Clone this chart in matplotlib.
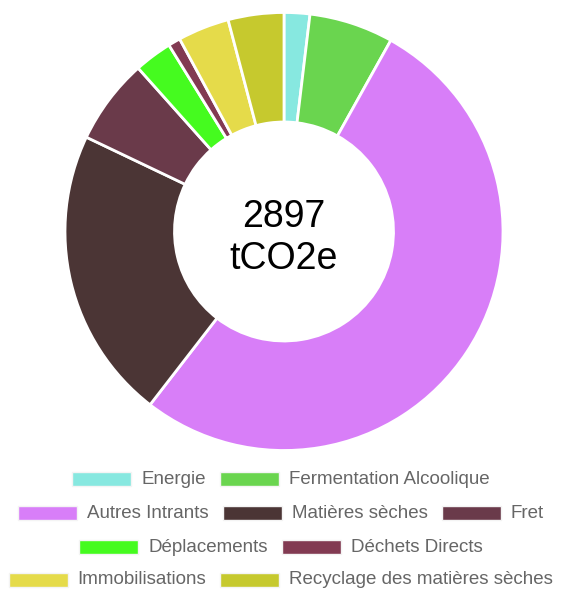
import matplotlib
matplotlib.use("Agg")
import matplotlib.pyplot as plt
from matplotlib.patches import Rectangle

# Emissions by category (tCO2e)
labels = ["Energie", "Fermentation Alcoolique", "Autres Intrants", "Matières sèches",
          "Fret", "Déplacements", "Déchets Directs", "Immobilisations",
          "Recyclage des matières sèches"]
values = [55, 180, 1517, 626, 183, 81, 26, 110, 119]
colors = ["#87e8e0", "#6ad54f", "#d87ef8", "#4b3535", "#6a3a4a",
          "#45fb1f", "#823a52", "#e5db4a", "#c6c92e"]
legend_rows = [[0, 1], [2, 3, 4], [5, 6], [7, 8]]

plt.rcParams['font.family'] = ['Liberation Sans', 'DejaVu Sans']

W, H = 562, 589
fig = plt.figure(figsize=(W / 100, H / 100), dpi=100)

# doughnut
cx, cy, R = 284, 231.5, 219
ax = fig.add_axes([(cx - R) / W, (H - cy - R) / H, 2 * R / W, 2 * R / H])
ax.pie(values, colors=colors, startangle=90, counterclock=False, radius=1,
       wedgeprops=dict(width=0.5, edgecolor="white", linewidth=2))
ax.set_xlim(-1.0, 1.0)
ax.set_ylim(-1.0, 1.0)
ax.axis("off")

total = sum(values)
ax.text(0, 0.02, str(total), ha="center", va="baseline", fontsize=27, color="black")
ax.text(0, -0.171, "tCO2e", ha="center", va="baseline", fontsize=27, color="black")

# legend, chart.js style: centered rows of box + label
box_w, box_h, gap, pad = 59, 14, 10, 14
row_y = [479, 513, 547, 580]
fs = 13.5
renderer = fig.canvas.get_renderer()


def text_width(s):
    t = fig.text(0, 0, s, fontsize=fs)
    w = t.get_window_extent(renderer).width
    t.remove()
    return w


for row, y in zip(legend_rows, row_y):
    widths = [box_w + gap + text_width(labels[i]) for i in row]
    total_w = sum(widths) + pad * (len(row) - 1)
    x = (W - total_w) / 2
    for i, w in zip(row, widths):
        fig.add_artist(Rectangle((x / W, (H - y - box_h / 2) / H), box_w / W, box_h / H,
                                 transform=fig.transFigure, facecolor=colors[i],
                                 edgecolor="#f4f4f4", linewidth=1))
        fig.text((x + box_w + gap) / W, (H - y) / H, labels[i], fontsize=fs,
                 color="#666666", ha="left", va="center")
        x += w + pad

fig.savefig("out.png", dpi=100)
